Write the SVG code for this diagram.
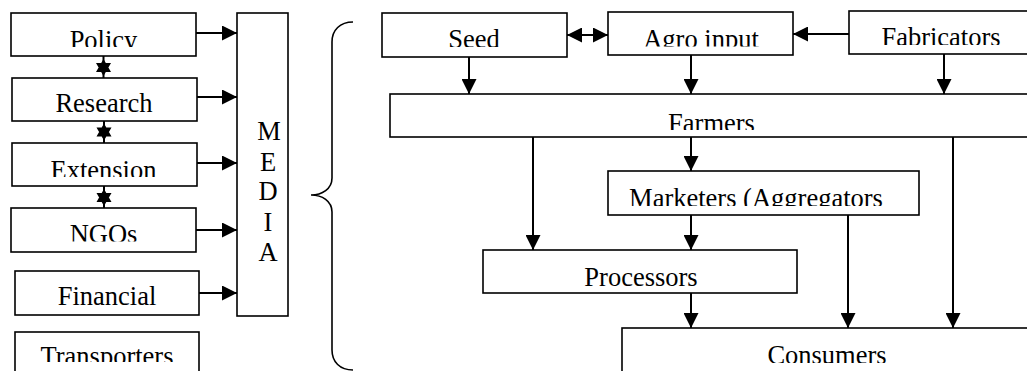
<svg xmlns="http://www.w3.org/2000/svg" width="1027" height="371" viewBox="0 0 1027 371">
<style>
.box{fill:#fff;stroke:#000;stroke-width:1.6}
.t{font-family:"Liberation Serif","Times New Roman",serif;font-size:26.5px;fill:#000;text-anchor:middle}
.c{fill:none;stroke:#000;stroke-width:2}
.star{fill:#000;stroke:none}
.brace{fill:none;stroke:#000;stroke-width:1.6}
</style>
<defs>
<marker id="ah" markerUnits="userSpaceOnUse" markerWidth="16" markerHeight="15" refX="15" refY="7.5" orient="auto-start-reverse" viewBox="0 0 16 15">
<path d="M0,0 L15,7.5 L0,15 z" fill="#000"/>
</marker>
<clipPath id="cPolicy"><rect x="11" y="13" width="185" height="34"/></clipPath>
<clipPath id="cExt"><rect x="12" y="143" width="185" height="34"/></clipPath>
<clipPath id="cNgo"><rect x="11" y="208" width="185" height="33.5"/></clipPath>
<clipPath id="cTrans"><rect x="15" y="332" width="184" height="30"/></clipPath>
<clipPath id="cSeed"><rect x="382" y="13" width="185" height="34"/></clipPath>
<clipPath id="cAgro"><rect x="608" y="12" width="185" height="34.5"/></clipPath>
<clipPath id="cFab"><rect x="849" y="11" width="190" height="34"/></clipPath>
<clipPath id="cFarm"><rect x="390" y="94" width="650" height="36"/></clipPath>
<clipPath id="cMkt"><rect x="608" y="171" width="311" height="35"/></clipPath>
<clipPath id="cCons"><rect x="622" y="328" width="420" height="35"/></clipPath>
</defs>

<g id="brace">
<path class="brace" d="M353,22 C340,22 332,30 332,42 L332,178 C332,189 322,195 311,195 C322,195 332,201 332,212 L332,350 C332,362 340,370 353,370"/>
</g>

<g id="policy"><rect class="box" x="11" y="13" width="185" height="43"/><text class="t" x="103.5" y="49" clip-path="url(#cPolicy)">Policy</text></g>
<g id="research"><rect class="box" x="12" y="78" width="185" height="43"/><text class="t" x="104" y="112">Research</text></g>
<g id="extension"><rect class="box" x="12" y="143" width="185" height="43"/><text class="t" x="103.5" y="179" clip-path="url(#cExt)">Extension</text></g>
<g id="ngos"><rect class="box" x="11" y="208" width="185" height="44"/><text class="t" x="103.5" y="243" clip-path="url(#cNgo)">NGOs</text></g>
<g id="financial"><rect class="box" x="15" y="271" width="184" height="44"/><text class="t" x="107" y="305">Financial</text></g>
<g id="transporters"><rect class="box" x="15" y="332" width="184" height="60"/><text class="t" x="107" y="365" clip-path="url(#cTrans)">Transporters</text></g>

<g id="media"><rect class="box" x="237" y="13" width="51" height="303"/>
<text class="t" x="269" y="140">M</text>
<text class="t" x="268" y="171">E</text>
<text class="t" x="268" y="200">D</text>
<text class="t" x="268" y="231">I</text>
<text class="t" x="268" y="261">A</text>
</g>

<g id="seed"><rect class="box" x="382" y="13" width="185" height="44"/><text class="t" x="474" y="48" clip-path="url(#cSeed)">Seed</text></g>
<g id="agro"><rect class="box" x="608" y="12" width="185" height="43"/><text class="t" x="701" y="48" clip-path="url(#cAgro)">Agro input</text></g>
<g id="fabricators"><rect class="box" x="849" y="11" width="190" height="43"/><text class="t" x="941" y="46" clip-path="url(#cFab)">Fabricators</text></g>
<g id="farmers"><rect class="box" x="390" y="94" width="650" height="43"/><text class="t" x="711.5" y="132" clip-path="url(#cFarm)">Farmers</text></g>
<g id="marketers"><rect class="box" x="608" y="171" width="311" height="44"/><text class="t" x="756" y="207" clip-path="url(#cMkt)">Marketers (Aggregators</text></g>
<g id="processors"><rect class="box" x="483" y="250" width="314" height="43"/><text class="t" x="641" y="286">Processors</text></g>
<g id="consumers"><rect class="box" x="622" y="328" width="420" height="60"/><text class="t" x="827" y="364" clip-path="url(#cCons)">Consumers</text></g>

<g id="connectors">
<line class="c" x1="196" y1="33" x2="237" y2="33" marker-end="url(#ah)"/>
<line class="c" x1="197" y1="97" x2="237" y2="97" marker-end="url(#ah)"/>
<line class="c" x1="197" y1="163" x2="237" y2="163" marker-end="url(#ah)"/>
<line class="c" x1="196" y1="230" x2="237" y2="230" marker-end="url(#ah)"/>
<line class="c" x1="199" y1="293" x2="237" y2="293" marker-end="url(#ah)"/>

<line class="c" x1="103.5" y1="56" x2="103.5" y2="78"/>
<path class="star" d="M103.5,59 L111,72 L96,72 z M103.5,76 L96,63 L111,63 z"/>
<line class="c" x1="104" y1="121" x2="104" y2="143"/>
<path class="star" d="M104,123.5 L111.5,136.5 L96.5,136.5 z M104,140.5 L96.5,127.5 L111.5,127.5 z"/>
<line class="c" x1="104" y1="186" x2="104" y2="208"/>
<path class="star" d="M104,189 L111.5,202 L96.5,202 z M104,206 L96.5,193 L111.5,193 z"/>

<line class="c" x1="567" y1="35" x2="608" y2="35" marker-start="url(#ah)" marker-end="url(#ah)"/>
<line class="c" x1="849" y1="34" x2="793" y2="34" marker-end="url(#ah)"/>

<line class="c" x1="469" y1="57" x2="469" y2="94" marker-end="url(#ah)"/>
<line class="c" x1="691" y1="55" x2="691" y2="94" marker-end="url(#ah)"/>
<line class="c" x1="944" y1="54" x2="944" y2="94" marker-end="url(#ah)"/>

<line class="c" x1="691" y1="137" x2="691" y2="171" marker-end="url(#ah)"/>
<line class="c" x1="533" y1="137" x2="533" y2="250" marker-end="url(#ah)"/>
<line class="c" x1="953" y1="137" x2="953" y2="328" marker-end="url(#ah)"/>

<line class="c" x1="691" y1="215" x2="691" y2="250" marker-end="url(#ah)"/>
<line class="c" x1="848" y1="215" x2="848" y2="328" marker-end="url(#ah)"/>

<line class="c" x1="691" y1="293" x2="691" y2="328" marker-end="url(#ah)"/>
</g>
</svg>
